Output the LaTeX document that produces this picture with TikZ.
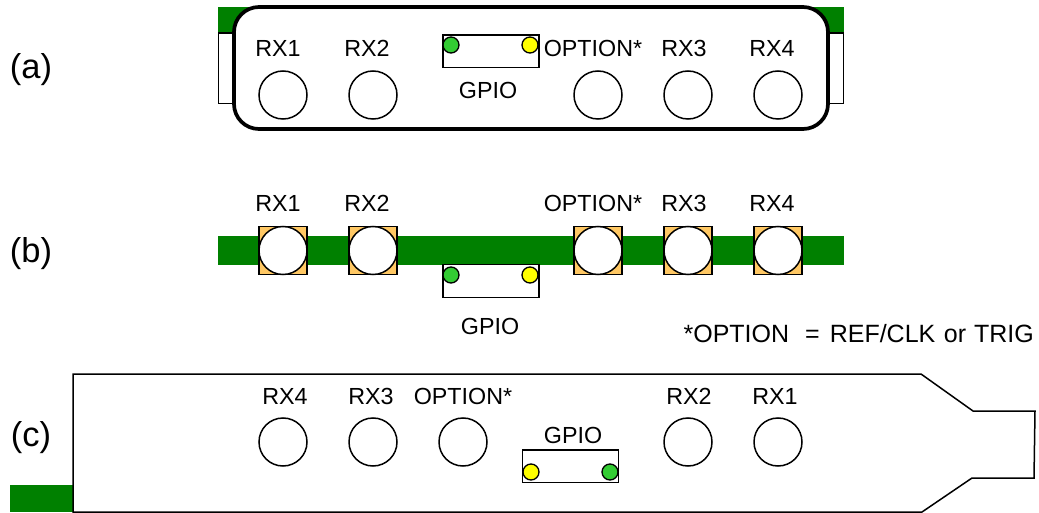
\documentclass[tikz,border=0pt]{standalone}
\usepackage{fontspec}
\setmainfont{Liberation Sans}
\definecolor{pcbgreen}{HTML}{008000}
\definecolor{padorange}{HTML}{FFC864}
\definecolor{ledgreen}{HTML}{33CC33}
\definecolor{ledyellow}{HTML}{FFFF00}
\tikzset{
  port/.style={circle,draw=black,line width=1.5pt,fill=white,minimum size=48pt,inner sep=0pt},
  pad/.style={rectangle,draw=black,line width=1.5pt,fill=padorange,minimum size=48pt,inner sep=0pt},
  led/.style={circle,draw=black,line width=1.3pt,minimum size=16pt,inner sep=0pt},
  gpiobox/.style={rectangle,draw=black,line width=1.5pt,fill=white,minimum width=96pt,minimum height=32.5pt,inner sep=0pt},
  lab/.style={font=\fontsize{23.3}{26}\selectfont,inner sep=0pt,anchor=center},
  notelab/.style={font=\fontsize{25}{28}\selectfont,inner sep=0pt},
  bigl/.style={font=\fontsize{34.5}{38}\selectfont,inner sep=0pt,anchor=center},
  greenbar/.style={fill=pcbgreen,draw=none}
}
\begin{document}
\begin{tikzpicture}[x=1pt,y=-1pt]
\useasboundingbox (0,0) rectangle (1039,513);
\node[bigl] (la) at (31,70) {(a)};
\node[bigl] (lb) at (31,254) {(b)};
\node[bigl] (lc) at (31,438) {(c)};
% (a)
\fill[greenbar] (218,7) rectangle (844,33);
\draw[line width=1.3pt,fill=white] (218.5,33) rectangle (843.5,103.5);
\draw[line width=3.7pt,fill=white,rounded corners=25pt] (234,7) rectangle (828,129);
\foreach \n/\x in {a1/283,a2/373,a3/598,a4/688,a5/778}
  \node[port] (\n) at (\x,95) {};
\node[gpiobox] (ag) at (491,51.5) {};
\node[led,fill=ledgreen] (ag1) at (451,45) {};
\node[led,fill=ledyellow] (ag2) at (530,45) {};
\node[lab] (at1) at (278,48) {RX1};
\node[lab] (at2) at (367,48) {RX2};
\node[lab] (at3) at (593,48) {OPTION*};
\node[lab] (at4) at (684,48) {RX3};
\node[lab] (at5) at (772,48) {RX4};
\node[lab] (at6) at (488,90) {GPIO};
% (b)
\fill[greenbar] (218,236) rectangle (844,265);
\foreach \n/\x in {b1/283,b2/373,b3/598,b4/688,b5/778}{
  \node[pad] (\n s) at (\x,250.5) {};
  \node[port] (\n) at (\x,250.5) {};
}
\node[gpiobox] (bg) at (491,281) {};
\node[led,fill=ledgreen] (bg1) at (451,275) {};
\node[led,fill=ledyellow] (bg2) at (530,275) {};
\node[lab] (bt1) at (278,203) {RX1};
\node[lab] (bt2) at (367,203) {RX2};
\node[lab] (bt3) at (593,203) {OPTION*};
\node[lab] (bt4) at (684,203) {RX3};
\node[lab] (bt5) at (772,203) {RX4};
\node[lab] (bt6) at (490,326) {GPIO};
\node[notelab,anchor=east] (note) at (1034,334) {*OPTION\hspace*{16pt}=\hspace*{10pt}REF/CLK\hspace*{8.5pt}or\hspace*{8pt}TRIG};
% (c)
\fill[greenbar] (10,485) rectangle (73,512);
\draw[line width=1.5pt,fill=white] (73,374) -- (921,374) -- (973,411) -- (1035,411) -- (1034,478) -- (972,478) -- (922,512) -- (73,512) -- cycle;
\foreach \n/\x in {c1/283,c2/373,c3/463,c4/688,c5/778}
  \node[port] (\n) at (\x,442) {};
\node[gpiobox] (cg) at (570.5,466) {};
\node[led,fill=ledyellow] (cg1) at (531,472) {};
\node[led,fill=ledgreen] (cg2) at (610,472) {};
\node[lab] (ct1) at (285,396) {RX4};
\node[lab] (ct2) at (371,396) {RX3};
\node[lab] (ct3) at (463,396) {OPTION*};
\node[lab] (ct4) at (689,396) {RX2};
\node[lab] (ct5) at (775,396) {RX1};
\node[lab] (ct6) at (573,435) {GPIO};
\end{tikzpicture}
\end{document}
